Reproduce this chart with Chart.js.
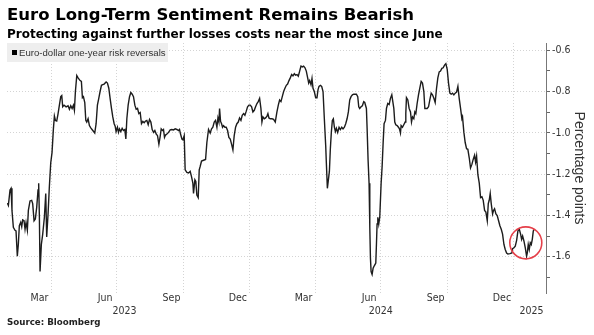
<!DOCTYPE html>
<html>
<head>
<meta charset="utf-8">
<script src="https://cdn.jsdelivr.net/npm/chart.js@4.4.1/dist/chart.umd.min.js"></script>
<style>
  html, body { margin:0; padding:0; background:#fff; }
  #wrap { position:relative; width:594px; height:335px; overflow:hidden; background:#fff; }
  #title { position:absolute; left:7px; top:5px; font:bold 16.5px 'DejaVu Sans', sans-serif; color:#000; white-space:nowrap; line-height:19px; }
  #subtitle { position:absolute; left:7px; top:27px; font:bold 12px 'DejaVu Sans', sans-serif; color:#000; white-space:nowrap; line-height:14px; }
  #legend { position:absolute; left:7px; top:43px; width:161px; height:19px; background:#eeeeee; font:9.6px 'Liberation Sans', Arial, sans-serif; color:#333; line-height:19px; white-space:nowrap; }
  #legend .sq { display:inline-block; width:5px; height:5px; background:#000; margin:0 2px 1px 5px; vertical-align:middle; }
  #source { position:absolute; left:7px; top:317px; font:bold 8.7px 'DejaVu Sans', sans-serif; color:#222; white-space:nowrap; line-height:11px; }
  canvas { position:absolute; left:0; top:0; }
</style>
</head>
<body>
<div id="wrap">
  <canvas id="c" width="594" height="335"></canvas>
  <div id="title">Euro Long-Term Sentiment Remains Bearish</div>
  <div id="subtitle">Protecting against further losses costs near the most since June</div>
  <div id="legend"><span class="sq"></span>Euro-dollar one-year risk reversals</div>
  <div id="source">Source: Bloomberg</div>
</div>
<script>
// Day numbers counted from 2023-01-01 (day 0)
const days = [
29.5,30.9,33.2,34.6,35.9,37.8,40.1,41.5,43.3,44.7,
46.1,48.0,49.4,50.7,52.6,54.0,55.4,57.2,58.6,60.9,
63.2,64.6,66.5,68.3,70.2,72.0,72.9,73.9,74.8,76.6,
78.5,80.8,82.7,84.0,85.9,87.7,89.6,91.4,93.3,94.7,
96.1,97.9,99.8,101.6,103.5,104.9,106.2,108.1,110.9,113.6,
115.5,117.3,119.2,121.0,122.4,123.8,125.7,127.5,130.3,132.1,
133.5,134.9,136.8,138.2,139.5,141.4,143.2,145.1,147.9,150.6,
152.5,154.3,156.2,158.0,159.9,161.7,163.6,166.4,168.2,170.1,
171.9,173.8,175.6,177.5,178.9,180.2,182.1,183.5,184.9,186.7,
188.6,190.4,192.3,193.7,195.1,196.9,198.8,200.6,202.5,204.3,
206.2,208.0,209.9,211.7,213.6,215.4,217.3,219.1,221.0,222.8,
224.7,226.5,228.4,230.2,232.1,233.9,235.8,237.6,239.5,241.3,
242.7,244.5,245.9,247.3,248.7,250.6,252.9,255.2,257.5,259.8,
262.1,264.4,266.7,268.1,269.5,271.4,272.8,274.6,275.9,278.3,
280.6,282.9,284.7,286.6,287.5,289.4,290.7,292.1,294.0,295.4,
296.8,298.6,301.4,304.2,306.0,308.3,310.6,312.5,314.3,316.2,
318.0,319.9,321.3,322.7,323.6,325.0,326.4,327.7,329.1,331.0,
332.8,334.7,336.5,338.4,340.2,342.1,343.0,343.9,345.8,347.6,
349.5,351.3,353.2,355.0,356.9,358.7,360.6,362.4,364.3,366.1,
368.0,369.8,371.7,373.5,375.4,377.2,379.1,380.9,382.3,383.7,
385.6,387.4,389.3,390.6,392.0,393.9,396.2,398.5,400.8,403.1,
405.0,406.8,408.7,410.5,412.4,414.2,416.1,417.9,419.8,421.6,
423.5,425.3,427.2,429.0,430.9,432.7,434.6,436.4,438.3,440.1,
442.0,443.8,445.7,447.1,448.5,450.3,451.7,453.1,454.9,456.8,
458.6,460.0,461.4,463.3,465.1,467.0,468.8,470.7,471.6,473.0,
474.4,475.8,477.1,478.5,479.9,481.3,482.7,484.1,485.5,487.3,
489.2,491.0,492.9,494.7,496.6,498.4,500.3,502.1,504.0,505.8,
507.7,509.5,513.2,515.1,516.5,517.8,519.7,521.5,523.4,524.8,
527.1,528.1,529.4,530.8,531.8,532.7,533.6,535.0,536.4,538.2,
540.1,541.0,541.9,542.9,544.2,545.6,547.5,548.9,550.3,551.6,
553.5,554.9,556.7,558.6,560.4,562.3,563.7,565.1,566.4,567.8,
569.7,571.5,572.9,574.3,575.2,577.1,578.9,580.8,581.7,582.6,
584.5,586.3,588.2,589.6,591.0,592.8,594.2,595.6,597.4,599.3,
601.1,603.0,604.8,606.7,608.1,609.5,611.3,613.2,615.0,616.9,
618.7,620.6,622.4,624.3,626.1,628.0,629.8,631.7,633.5,635.4,
637.2,639.1,640.9,642.8,644.6,646.5,648.3,650.2,652.0,653.9,
655.7,657.6,659.4,660.3,662.2,664.0,665.9,667.7,669.6,671.4,
673.3,675.1,677.0,678.4,679.8,681.6,683.5,685.3,687.2,689.0,
690.9,692.7,694.6,696.0,697.3,698.7,700.1,702.0,703.3,704.7,
706.6,708.4,710.3,712.1,714.0,715.8,717.7,719.5,721.4,723.2,
726.0,728.8,729.7,731.6,733.4,735.3,737.1,739.0,740.8,742.2,
743.6,745.4,747.3,749.1,750.1,751.4,752.8,754.2,755.6,757.0,
758.4,759.8
];
// Euro-dollar one-year risk reversals, percentage points
const riskReversals = [
-1.340,-1.351,-1.277,-1.269,-1.376,-1.458,-1.472,-1.475,-1.598,-1.541,
-1.450,-1.434,-1.455,-1.422,-1.426,-1.467,-1.434,-1.472,-1.376,-1.330,
-1.327,-1.343,-1.426,-1.417,-1.360,-1.277,-1.244,-1.409,-1.672,-1.541,
-1.491,-1.409,-1.294,-1.505,-1.393,-1.261,-1.146,-1.096,-0.981,-0.919,
-0.940,-0.943,-0.907,-0.866,-0.825,-0.820,-0.874,-0.866,-0.874,-0.869,
-0.886,-0.869,-0.882,-0.866,-0.891,-0.800,-0.723,-0.734,-0.747,-0.751,
-0.830,-0.825,-0.854,-0.940,-0.948,-0.932,-0.965,-0.976,-0.989,-1.001,
-0.956,-0.866,-0.833,-0.800,-0.770,-0.767,-0.764,-0.754,-0.759,-0.784,
-0.833,-0.882,-0.923,-0.956,-0.968,-0.994,-0.973,-0.998,-0.981,-0.994,
-0.978,-0.989,-0.984,-1.030,-0.932,-0.866,-0.825,-0.805,-0.813,-0.825,
-0.866,-0.886,-0.882,-0.907,-0.902,-0.956,-0.945,-0.951,-0.943,-0.940,
-0.961,-0.935,-0.948,-0.984,-0.998,-0.989,-1.006,-1.014,-1.055,-1.017,
-0.981,-0.989,-0.984,-1.022,-1.011,-1.006,-0.998,-0.986,-0.984,-0.986,
-0.981,-0.984,-0.989,-0.984,-1.006,-1.030,-1.034,-1.014,-1.179,-1.192,
-1.195,-1.187,-1.212,-1.244,-1.294,-1.228,-1.236,-1.302,-1.314,-1.179,
-1.162,-1.137,-1.133,-1.129,-1.047,-0.984,-1.001,-0.981,-0.973,-0.948,
-0.940,-0.973,-0.928,-0.948,-0.882,-0.945,-0.956,-0.973,-0.965,-0.973,
-0.973,-0.989,-1.022,-1.030,-1.055,-1.083,-1.047,-1.014,-0.973,-0.956,
-0.948,-0.928,-0.940,-0.915,-0.907,-0.915,-0.895,-0.874,-0.866,-0.866,
-0.874,-0.899,-0.891,-0.874,-0.858,-0.849,-0.833,-0.882,-0.948,-0.923,
-0.932,-0.928,-0.919,-0.907,-0.928,-0.932,-0.932,-0.935,-0.948,-0.899,
-0.866,-0.841,-0.849,-0.825,-0.800,-0.784,-0.770,-0.764,-0.747,-0.734,
-0.718,-0.724,-0.714,-0.721,-0.718,-0.726,-0.701,-0.677,-0.681,-0.677,
-0.685,-0.701,-0.734,-0.759,-0.747,-0.767,-0.737,-0.784,-0.800,-0.830,
-0.830,-0.792,-0.775,-0.770,-0.775,-0.800,-0.932,-1.063,-1.146,-1.269,
-1.228,-1.187,-1.080,-0.998,-0.940,-0.932,-0.973,-0.994,-0.978,-0.998,
-0.973,-0.984,-0.973,-0.981,-0.973,-0.956,-0.932,-0.899,-0.841,-0.825,
-0.816,-0.813,-0.813,-0.825,-0.874,-0.882,-0.874,-0.869,-0.849,-0.853,
-0.882,-0.981,-1.129,-1.244,-1.458,-1.607,-1.672,-1.686,-1.656,-1.643,
-1.631,-1.541,-1.442,-1.409,-1.442,-1.409,-1.244,-1.162,-1.047,-0.956,
-0.940,-0.882,-0.858,-0.863,-0.833,-0.816,-0.849,-0.882,-0.948,-0.961,
-0.965,-0.973,-0.981,-1.001,-0.965,-0.973,-0.961,-0.948,-0.907,-0.830,
-0.841,-0.882,-0.899,-0.948,-0.923,-0.932,-0.899,-0.907,-0.858,-0.816,
-0.784,-0.751,-0.759,-0.800,-0.882,-0.882,-0.882,-0.874,-0.841,-0.808,
-0.816,-0.833,-0.853,-0.784,-0.734,-0.705,-0.701,-0.688,-0.685,-0.672,
-0.665,-0.693,-0.759,-0.808,-0.813,-0.808,-0.816,-0.808,-0.803,-0.775,
-0.833,-0.882,-0.932,-0.923,-0.998,-1.047,-1.077,-1.080,-1.121,-1.170,
-1.153,-1.129,-1.109,-1.142,-1.113,-1.203,-1.244,-1.314,-1.310,-1.327,
-1.376,-1.384,-1.426,-1.343,-1.327,-1.294,-1.343,-1.393,-1.376,-1.368,
-1.393,-1.401,-1.426,-1.450,-1.467,-1.491,-1.541,-1.565,-1.582,-1.587,
-1.585,-1.582,-1.561,-1.557,-1.549,-1.521,-1.475,-1.467,-1.491,-1.516,
-1.500,-1.524,-1.557,-1.598,-1.582,-1.541,-1.565,-1.533,-1.541,-1.516,
-1.475,-1.467
];

// Axis definitions
const xRange = [29, 776];                 // visible day range
const gridDays = [90, 181, 273, 365, 456, 547, 639, 731]; // quarter boundaries
const monthTickDays = [74, 165, 257, 349, 440, 531, 623, 715];
const monthLabels = ['Mar', 'Jun', 'Sep', 'Dec', 'Mar', 'Jun', 'Sep', 'Dec'];
const yearTickDays = [192, 547, 756];
const yearLabels = ['2023', '2024', '2025'];
const yRange = [-1.776, -0.565];
const yTickValues = [-0.6, -0.7, -0.8, -0.9, -1.0, -1.1, -1.2, -1.3, -1.4, -1.5, -1.6, -1.7];
const yTickLabels = ['-0.6', '', '-0.8', '', '-1.0', '', '-1.2', '', '-1.4', '', '-1.6', ''];
const highlight = { day: 748, value: -1.533 };

const points = days.map((d, i) => ({ x: d, y: riskReversals[i] }));
const tickFont = { family: "'Liberation Sans Narrow', 'DejaVu Sans Condensed', 'Liberation Sans', sans-serif", size: 10.5 };

const circlePlugin = {
  id: 'circle',
  afterDatasetsDraw(chart) {
    const { ctx, scales } = chart;
    const cx = scales.x.getPixelForValue(highlight.day);
    const cy = scales.y.getPixelForValue(highlight.value);
    ctx.save();
    ctx.beginPath();
    ctx.arc(cx, cy, 16, 0, Math.PI * 2);
    ctx.strokeStyle = '#e5404a';
    ctx.lineWidth = 1.6;
    ctx.stroke();
    ctx.restore();
  }
};

function setTicks(values) {
  return (scale) => { scale.ticks = values.map(v => ({ value: v })); };
}

new Chart(document.getElementById('c'), {
  type: 'line',
  data: {
    datasets: [{
      label: 'Euro-dollar one-year risk reversals',
      data: points,
      borderColor: '#1c1c1c',
      borderWidth: 1.4,
      pointRadius: 0,
      tension: 0,
      fill: false
    }]
  },
  options: {
    responsive: false,
    animation: false,
    devicePixelRatio: 1,
    layout: { padding: { left: 7, top: 43, right: 0, bottom: 15 } },
    plugins: { legend: { display: false }, tooltip: { enabled: false }, title: { display: false } },
    scales: {
      x: {
        type: 'linear', position: 'bottom', weight: 0,
        min: xRange[0], max: xRange[1],
        afterBuildTicks: setTicks(gridDays),
        afterFit: (s) => { s.height = 0; },
        ticks: { display: false },
        grid: { color: '#d4d4d4', lineWidth: 1, drawTicks: false },
        border: { display: false, dash: [1, 2] }
      },
      xm: {
        type: 'linear', position: 'bottom', weight: 1,
        min: xRange[0], max: xRange[1],
        afterBuildTicks: setTicks(monthTickDays),
        afterFit: (s) => { s.height = 13; },
        ticks: {
          autoSkip: false, maxRotation: 0, padding: -1, color: '#333', font: tickFont,
          callback: (v, i) => monthLabels[i]
        },
        grid: { display: false, drawTicks: false },
        border: { display: false }
      },
      xy: {
        type: 'linear', position: 'bottom', weight: 2,
        min: xRange[0], max: xRange[1],
        afterBuildTicks: setTicks(yearTickDays),
        afterFit: (s) => { s.height = 14; },
        ticks: {
          autoSkip: false, maxRotation: 0, padding: -1, color: '#333', font: tickFont,
          callback: (v, i) => yearLabels[i]
        },
        grid: { display: false, drawTicks: false },
        border: { display: false }
      },
      y: {
        type: 'linear', position: 'right',
        min: yRange[0], max: yRange[1],
        afterBuildTicks: setTicks(yTickValues),
        afterFit: (s) => { s.width = 48; },
        ticks: {
          autoSkip: false, padding: 2, color: '#333', font: tickFont,
          callback: (v, i) => yTickLabels[i]
        },
        grid: {
          color: (ctx) => (ctx.index !== undefined && yTickLabels[ctx.index]) ? '#d4d4d4' : 'rgba(0,0,0,0)',
          tickColor: '#666', tickLength: 4, lineWidth: 1, drawTicks: true
        },
        border: { display: true, color: '#777', width: 1, dash: [1, 2] },
        title: {
          display: true, text: 'Percentage points', color: '#333',
          font: { family: "'Liberation Sans', Arial, sans-serif", size: 14 },
          padding: { top: 7, bottom: 0 }
        }
      }
    }
  },
  plugins: [circlePlugin]
});
</script>
</body>
</html>
